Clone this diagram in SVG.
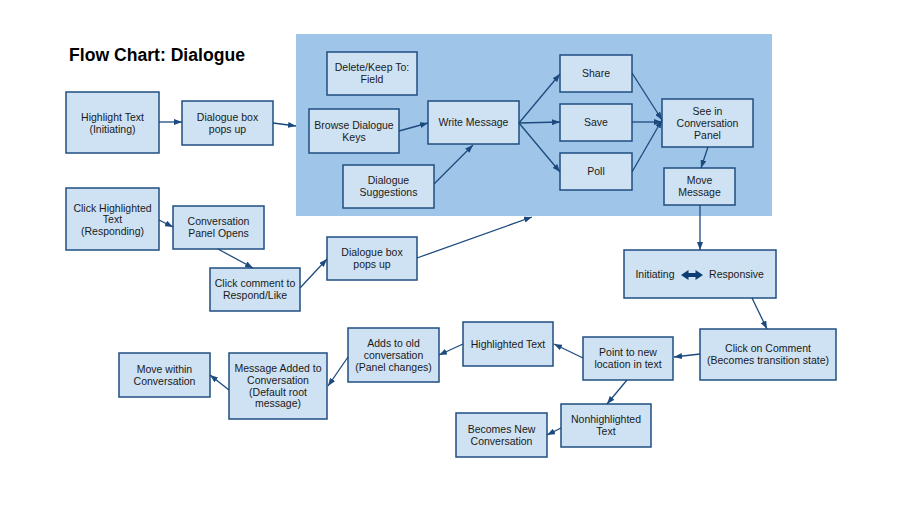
<svg xmlns="http://www.w3.org/2000/svg" width="900" height="508" viewBox="0 0 900 508">
<defs>
<marker id="ah" markerUnits="userSpaceOnUse" markerWidth="8" markerHeight="6" refX="8" refY="3" orient="auto">
<path d="M0,0 L8,3 L0,6 z" fill="#1c4a7e"/>
</marker>
</defs>
<style>
.n rect{fill:#cfe2f3;stroke:#1f4e80;stroke-width:1.5}
.n text{font-family:"Liberation Sans",Arial,sans-serif;font-size:10.5px;fill:#1a1a1a;text-anchor:middle}
.c line{stroke:#1c4a7e;stroke-width:1.3;marker-end:url(#ah)}
.t{font-family:"Liberation Sans",Arial,sans-serif;font-size:17.6px;font-weight:bold;fill:#000}
</style>
<rect width="900" height="508" fill="#fff"/>
<text class="t" x="69" y="61">Flow Chart: Dialogue</text>
<rect id="panel" x="296" y="34" width="476" height="182" fill="#9fc5e8"/>

<g id="highlight-text" class="n"><rect x="66" y="92" width="93" height="61"/><text x="112.5" y="121">Highlight Text</text><text x="112.5" y="132.7">(Initiating)</text></g>
<g id="dialogue-box-1" class="n"><rect x="182" y="101" width="91" height="44"/><text x="227.5" y="120.9">Dialogue box</text><text x="227.5" y="132.6">pops up</text></g>
<g id="delete-keep" class="n"><rect x="327" y="52" width="90" height="43"/><text x="372" y="71.4">Delete/Keep To:</text><text x="372" y="83.1">Field</text></g>
<g id="browse-keys" class="n"><rect x="309" y="109" width="90" height="44"/><text x="354" y="128.9">Browse Dialogue</text><text x="354" y="140.6">Keys</text></g>
<g id="suggestions" class="n"><rect x="343" y="165" width="91" height="43"/><text x="388.5" y="184.4">Dialogue</text><text x="388.5" y="196.1">Suggestions</text></g>
<g id="write-message" class="n"><rect x="428" y="101" width="91" height="43"/><text x="473.5" y="126.3">Write Message</text></g>
<g id="share" class="n"><rect x="560" y="55" width="72" height="37"/><text x="596" y="77.3">Share</text></g>
<g id="save" class="n"><rect x="560" y="104" width="72" height="37"/><text x="596" y="126.3">Save</text></g>
<g id="poll" class="n"><rect x="560" y="153" width="72" height="37"/><text x="596" y="175.3">Poll</text></g>
<g id="see-panel" class="n"><rect x="662" y="99" width="91" height="48"/><text x="707.5" y="115.1">See in</text><text x="707.5" y="126.8">Conversation</text><text x="707.5" y="138.5">Panel</text></g>
<g id="move-message" class="n"><rect x="664" y="168" width="71" height="37"/><text x="699.5" y="184.4">Move</text><text x="699.5" y="196.1">Message</text></g>

<g id="click-highlighted" class="n"><rect x="66" y="188" width="93" height="62"/><text x="112.5" y="211.6">Click Highlighted</text><text x="112.5" y="223.3">Text</text><text x="112.5" y="235">(Responding)</text></g>
<g id="panel-opens" class="n"><rect x="173" y="206" width="91" height="43"/><text x="218.5" y="225.4">Conversation</text><text x="218.5" y="237.1">Panel Opens</text></g>
<g id="click-comment" class="n"><rect x="210" y="268" width="90" height="43"/><text x="255" y="287.4">Click comment to</text><text x="255" y="299.1">Respond/Like</text></g>
<g id="dialogue-box-2" class="n"><rect x="327" y="237" width="90" height="43"/><text x="372" y="256.4">Dialogue box</text><text x="372" y="268.1">pops up</text></g>

<g id="initiating-responsive" class="n"><rect x="624" y="250" width="152" height="48"/><text x="655" y="278">Initiating</text><text x="736.5" y="278">Responsive</text>
<polygon points="681,275 688.5,270 688.5,273 695.5,273 695.5,270 703,275 695.5,280 695.5,277 688.5,277 688.5,280" fill="#0b3d73"/></g>
<g id="click-on-comment" class="n"><rect x="700" y="329" width="136" height="51"/><text x="768" y="352.4">Click on Comment</text><text x="768" y="364.1">(Becomes transition state)</text></g>
<g id="point-new-location" class="n"><rect x="583" y="337" width="90" height="43"/><text x="628" y="356.4">Point to new</text><text x="628" y="368.1">location in text</text></g>
<g id="highlighted-text" class="n"><rect x="463" y="322" width="90" height="44"/><text x="508" y="347.8">Highlighted Text</text></g>
<g id="adds-old" class="n"><rect x="348" y="328" width="91" height="54"/><text x="393.5" y="347.1">Adds to old</text><text x="393.5" y="358.8">conversation</text><text x="393.5" y="370.5">(Panel changes)</text></g>
<g id="message-added" class="n"><rect x="229" y="353" width="98" height="66"/><text x="278" y="372.3">Message Added to</text><text x="278" y="384">Conversation</text><text x="278" y="395.7">(Default root</text><text x="278" y="407.4">message)</text></g>
<g id="move-within" class="n"><rect x="119" y="353" width="91" height="44"/><text x="164.5" y="372.9">Move within</text><text x="164.5" y="384.6">Conversation</text></g>
<g id="nonhighlighted" class="n"><rect x="561" y="404" width="90" height="43"/><text x="606" y="423.4">Nonhighlighted</text><text x="606" y="435.1">Text</text></g>
<g id="becomes-new" class="n"><rect x="456" y="413" width="91" height="44"/><text x="501.5" y="432.9">Becomes New</text><text x="501.5" y="444.6">Conversation</text></g>

<g id="connectors" class="c">
<line x1="159" y1="122" x2="182" y2="122"/>
<line x1="273" y1="123" x2="296" y2="126"/>
<line x1="399" y1="131" x2="428" y2="123"/>
<line x1="434" y1="184" x2="473" y2="145"/>
<line x1="519" y1="123" x2="560" y2="74"/>
<line x1="519" y1="123" x2="560" y2="122"/>
<line x1="519" y1="123" x2="560" y2="172"/>
<line x1="632" y1="73" x2="662" y2="120"/>
<line x1="632" y1="122" x2="662" y2="122"/>
<line x1="632" y1="172" x2="662" y2="120"/>
<line x1="708" y1="147" x2="701" y2="168"/>
<line x1="700" y1="205" x2="700" y2="250"/>
<line x1="159" y1="220" x2="173" y2="227"/>
<line x1="218" y1="249" x2="253" y2="268"/>
<line x1="300" y1="288" x2="327" y2="259"/>
<line x1="417" y1="258" x2="532" y2="217"/>
<line x1="752" y1="298" x2="767" y2="329"/>
<line x1="700" y1="354" x2="674" y2="357"/>
<line x1="583" y1="358" x2="554" y2="344"/>
<line x1="463" y1="344" x2="439" y2="355"/>
<line x1="348" y1="357" x2="328" y2="386"/>
<line x1="229" y1="390" x2="210" y2="375"/>
<line x1="627" y1="380" x2="607" y2="404"/>
<line x1="561" y1="428" x2="547" y2="435"/>
</g>
</svg>
